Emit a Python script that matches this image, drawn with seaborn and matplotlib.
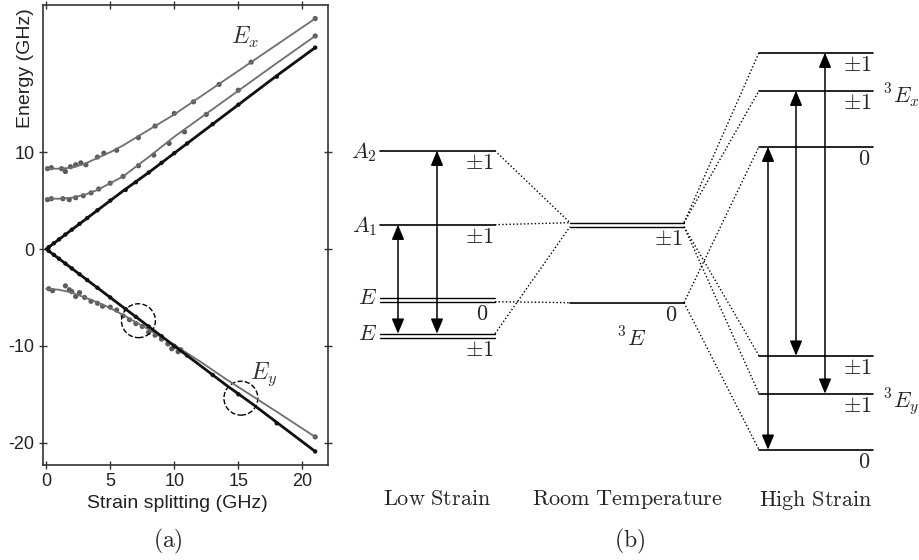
import numpy as np
import pandas as pd
import matplotlib
matplotlib.use("Agg")
import matplotlib.pyplot as plt
import seaborn as sns
from matplotlib.patches import Ellipse

sns.set_style("ticks")
plt.rcParams['font.family'] = ['Liberation Sans', 'DejaVu Sans']
plt.rcParams['mathtext.fontset'] = 'cm'

# ---------------- panel (a): energy vs strain splitting (GHz) ----------------
x_fit = [0, 1, 2, 3, 4, 5, 6, 8, 10, 12, 14, 16, 18, 21]
ex_upper = [8.3, 8.3, 8.4, 8.8, 9.4, 10.0, 10.7, 12.3, 13.9, 15.7, 17.5, 19.3, 21.1, 23.8]
ex_lower = [5.2, 5.2, 5.3, 5.6, 6.1, 6.8, 7.5, 9.5, 11.6, 13.5, 15.4, 17.3, 19.2, 22.0]
ey_gray = [-4.1, -4.2, -4.5, -5.0, -5.5, -6.1, -6.8, -8.3, -9.9, -11.6, -13.4, -15.1, -16.8, -19.4]
black_up = [0, 1.0, 2.0, 3.0, 4.0, 5.0, 6.0, 7.9, 9.9, 11.9, 13.9, 15.9, 17.9, 20.8]
black_dn = [0, -1.0, -2.0, -3.0, -4.0, -5.0, -6.0, -8.0, -10.0, -12.0, -14.0, -15.9, -17.9, -20.9]

# measured points
exu_px = [0.1, 0.4, 1.2, 1.5, 1.9, 2.3, 2.7, 3.1, 4.0, 4.5, 5.5, 7.2, 8.5, 10.0, 11.5, 13.5, 16.0, 21.0]
exu_py = [8.3, 8.4, 8.3, 8.0, 8.5, 8.7, 8.9, 8.7, 9.5, 9.9, 10.2, 11.5, 12.7, 14.0, 15.2, 17.0, 19.3, 23.8]
exl_px = [0.1, 0.4, 1.3, 1.8, 2.3, 2.9, 3.5, 4.1, 5.0, 6.0, 7.2, 8.4, 9.6, 10.8, 12.5, 15.0, 21.0]
exl_py = [5.1, 5.2, 5.2, 5.1, 5.3, 5.5, 5.8, 6.2, 6.8, 7.5, 8.6, 9.7, 10.9, 12.1, 13.9, 16.4, 22.0]
ey_px = [0.2, 0.5, 1.5, 1.8, 2.0, 2.3, 2.6, 3.0, 3.5, 4.0, 4.4, 5.0, 5.5, 6.0, 6.5, 7.0,
         7.5, 8.0, 8.5, 9.0, 9.5, 9.8, 10.0, 10.3, 10.5, 21.0]
ey_py = [-4.1, -4.3, -3.8, -4.2, -4.4, -4.9, -4.5, -5.0, -5.4, -5.6, -5.9, -6.0, -6.3, -6.9,
         -7.3, -7.7, -8.0, -8.6, -8.9, -9.3, -9.8, -10.3, -10.1, -10.6, -10.4, -19.4]
blk_px = [0.2, 0.6, 1.0, 1.5, 2.0, 2.6, 3.2, 4.0, 5.0, 6.2, 7.0, 8.0, 9.0, 10.0, 11.0, 13.0, 15.0, 18.0, 21.0]
blk_up_py = [0.2, 0.6, 1.0, 1.5, 2.0, 2.6, 3.2, 4.0, 5.0, 6.1, 6.9, 7.9, 8.9, 9.9, 10.9, 12.9, 14.9, 17.8, 20.8]
blk_dn_py = [-0.2, -0.6, -1.0, -1.5, -2.0, -2.6, -3.2, -4.0, -5.0, -6.2, -7.0, -8.0, -9.0, -10.0,
             -11.0, -13.0, -15.0, -18.0, -20.9]

y_ticks = [-20, -10, 0, 10]
y_ticklabels = ['-20', '-10', '0', '10']
x_ticks = [0, 5, 10, 15, 20]
anticross = [(7.2, -7.4), (15.2, -15.4)]

# ---------------- panel (b): level scheme (arb. energy units) ----------------
low_levels = [15.2, 7.8, 0.5, 0.1, -3.1, -3.5]
room_levels = [8.0, 7.6, 0.0]
high_levels = [25.0, 21.2, 15.6, -5.3, -9.1, -14.7]
low_names = ['$A_2$', '$A_1$', '$E$', '$E$']
low_name_lv = [0, 1, 2, 4]
low_spin = ['$\\pm1$', '$\\pm1$', '$0$', '$\\pm1$']
low_spin_lv = [0, 1, 3, 5]
room_spin = ['$\\pm1$', '$0$']
room_spin_lv = [1, 2]
high_spin = ['$\\pm1$', '$\\pm1$', '$0$', '$\\pm1$', '$\\pm1$', '$0$']
low_to_room = [(0, 0), (1, 0), (3, 2), (4, 1)]
room_to_high = [(0, 0), (0, 1), (1, 3), (1, 4), (2, 2), (2, 5)]
low_trans = [(1, 4), (0, 4)]
high_trans = [(2, 5), (1, 3), (0, 4)]
columns = ['Low\\ Strain', 'Room\\ Temperature', 'High\\ Strain']

fig = plt.figure(figsize=(9.19, 5.6), dpi=100)

# ---- panel (a)
ax = fig.add_axes([43 / 919, 95 / 560, 285 / 919, 460 / 560])
gray = '#6e6e6e'
for yv in [ex_upper, ex_lower, ey_gray]:
    sns.lineplot(x=x_fit, y=yv, ax=ax, color=gray, lw=1.3, sort=False, estimator=None)
for yv in [black_up, black_dn]:
    sns.lineplot(x=x_fit, y=yv, ax=ax, color='#111111', lw=2.0, sort=False, estimator=None)
for px, py in [(exu_px, exu_py), (exl_px, exl_py), (ey_px, ey_py)]:
    sns.scatterplot(x=px, y=py, ax=ax, color='#5a5a5a', s=14, edgecolor='none')
for py in [blk_up_py, blk_dn_py]:
    sns.scatterplot(x=blk_px, y=py, ax=ax, color='#111111', s=10, edgecolor='none')

for cx, cy in anticross:
    ax.add_patch(Ellipse((cx, cy), 2.65, 3.5, fill=False, ls='--', lw=1.0, ec='black'))

ax.text(14.4, 21.8, '$E_x$', fontsize=17, color='#333333', ha='left', va='center')
ax.text(15.9, -12.9, '$E_y$', fontsize=17, color='#333333', ha='left', va='center')

ax.set_xlim(-0.25, 22.0)
ax.set_ylim(-22.3, 25.2)
ax.set_xticks(x_ticks)
ax.set_xticklabels([str(v) for v in x_ticks])
ax.set_yticks(y_ticks)
ax.set_yticklabels(y_ticklabels)
ax.tick_params(direction='inout', length=6, width=1.0, colors='#333333', labelcolor='#222222',
               labelsize=13, top=True, right=True, pad=3)
for s in ax.spines.values():
    s.set_color('#333333')
    s.set_linewidth(1.2)
ax.set_xlabel('Strain splitting (GHz)', fontsize=14, color='#222222', va='top')
ax.xaxis.set_label_coords(0.47, -0.066)
ax.set_ylabel('Energy (GHz)', fontsize=14, color='#222222', va='center')
ax.yaxis.set_label_coords(-0.063, 0.862)

fig.text(168 / 919, 1 - 541 / 560, '$\\mathrm{(a)}$', fontsize=17, ha='center', va='center')

# ---- panel (b)
bx = fig.add_axes([340 / 919, 0, 579 / 919, 1])
bx.set_xlim(340, 919)
bx.set_ylim(-25.73, 30.27)
bx.axis('off')

low_x = (380, 495)
room_x = (570, 684)
high_x = (759, 873)
fs = 16

for i, e in enumerate(low_levels):
    bx.plot(low_x, [e, e], color='black', lw=1.2 if i < 2 else 1.0)
for e in room_levels:
    bx.plot(room_x, [e, e], color='black', lw=1.0 if e > 1 else 1.2)
for e in high_levels:
    bx.plot(high_x, [e, e], color='black', lw=1.2)

for name, lv in zip(low_names, low_name_lv):
    bx.text(low_x[0] - 3, low_levels[lv] - 0.1, name, fontsize=fs, ha='right', va='center')
for lab, lv in zip(low_spin, low_spin_lv):
    off = 7 if lab == '$0$' else 1
    bx.text(low_x[1] - off, low_levels[lv] - 0.25, lab, fontsize=fs, ha='right', va='top')
for lab, lv in zip(room_spin, room_spin_lv):
    off = 7 if lab == '$0$' else 1
    bx.text(room_x[1] - off, room_levels[lv] - 0.25, lab, fontsize=fs, ha='right', va='top')
for lab, e in zip(high_spin, high_levels):
    off = 3 if lab == '$0$' else 1
    bx.text(high_x[1] - off, e - 0.25, lab, fontsize=fs, ha='right', va='top')

bx.text(632, -3.7, '$^3E$', fontsize=fs, ha='center', va='center')
bx.text(883, 20.8, '$^3E_x$', fontsize=fs, ha='left', va='center')
bx.text(883, -9.9, '$^3E_y$', fontsize=fs, ha='left', va='center')

dot = (0, (1, 1.6))
for a, b in low_to_room:
    bx.plot([low_x[1], room_x[0]], [low_levels[a], room_levels[b]], color='black', lw=1.0, ls=dot)
for a, b in room_to_high:
    bx.plot([room_x[1], high_x[0]], [room_levels[a], high_levels[b]], color='black', lw=1.0, ls=dot)

arrow = dict(arrowstyle='<|-|>,head_length=0.6,head_width=0.25', mutation_scale=15,
             lw=1.1, color='black', shrinkA=0, shrinkB=0)
for xa, (t, b) in zip([398, 437], low_trans):
    bx.annotate('', xy=(xa, low_levels[t]), xytext=(xa, low_levels[b]), arrowprops=arrow)
for xa, (t, b) in zip([768, 796, 825], high_trans):
    bx.annotate('', xy=(xa, high_levels[t]), xytext=(xa, high_levels[b]), arrowprops=arrow)

for cx, name in zip([sum(low_x) / 2, sum(room_x) / 2, sum(high_x) / 2], columns):
    bx.text(cx, -19.7, '$\\mathrm{' + name + '}$', fontsize=fs, ha='center', va='center')

fig.text(630 / 919, 1 - 541 / 560, '$\\mathrm{(b)}$', fontsize=17, ha='center', va='center')

fig.savefig('out.png', dpi=100)
